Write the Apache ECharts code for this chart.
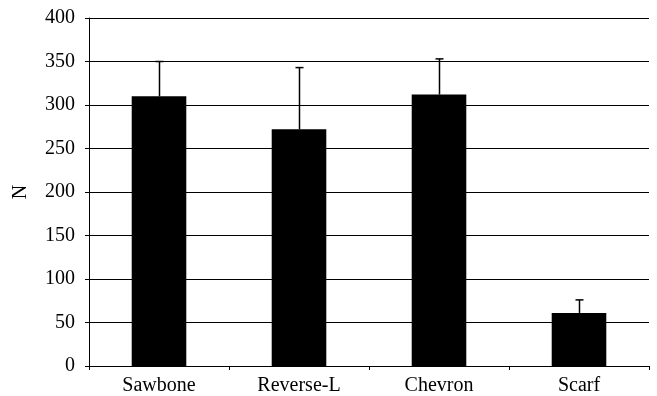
<!DOCTYPE html>
<html>
<head>
<meta charset="utf-8">
<script src="https://cdn.jsdelivr.net/npm/echarts@6/dist/echarts.min.js"></script>
<style>html,body{margin:0;padding:0;background:#fff}#c{width:657px;height:396px}</style>
</head>
<body>
<div id="c"></div>
<script>
const categories = ['Sawbone', 'Reverse-L', 'Chevron', 'Scarf'];
const means = [310, 272, 312, 61];
const errorTops = [350, 343, 353, 76];
const yTicks = {min: 0, max: 400, interval: 50};

const chart = echarts.init(document.getElementById('c'), null, {renderer: 'canvas'});
const font = '"Liberation Serif", "Times New Roman", serif';
chart.setOption({
  animation: false,
  grid: {left: 89, right: 8, top: 18, bottom: 30, containLabel: false},
  xAxis: {
    type: 'category',
    data: categories,
    axisLine: {show: true, lineStyle: {color: '#000', width: 1}},
    axisTick: {show: true, alignWithLabel: false, length: 4, lineStyle: {color: '#000'}},
    axisLabel: {color: '#000', fontFamily: font, fontSize: 20, margin: 10}
  },
  yAxis: {
    type: 'value',
    min: yTicks.min, max: yTicks.max, interval: yTicks.interval,
    name: 'N', nameLocation: 'middle', nameRotate: 90, nameGap: 58,
    nameTextStyle: {color: '#000', fontFamily: font, fontSize: 20},
    axisLine: {show: true, lineStyle: {color: '#000', width: 1}},
    axisTick: {show: true, length: 4, lineStyle: {color: '#000'}},
    axisLabel: {color: '#000', fontFamily: font, fontSize: 20, margin: 14},
    splitLine: {show: true, lineStyle: {color: '#000', width: 1}}
  },
  series: [
    {
      type: 'bar',
      data: means,
      barWidth: '39%',
      itemStyle: {color: '#000'},
      z: 2
    },
    {
      type: 'custom',
      z: 3,
      data: categories.map((c, i) => [i, means[i], errorTops[i]]),
      renderItem: function (params, api) {
        const base = api.coord([api.value(0), api.value(1)]);
        const top = api.coord([api.value(0), api.value(2)]);
        const x = Math.round(base[0]) + 0.5;
        const hw = 4;
        return {
          type: 'group',
          children: [
            {type: 'line', shape: {x1: x, y1: base[1], x2: x, y2: top[1]}, style: {stroke: '#000', lineWidth: 1.5}},
            {type: 'line', shape: {x1: x - hw, y1: top[1], x2: x + hw, y2: top[1]}, style: {stroke: '#000', lineWidth: 1.5}}
          ]
        };
      }
    }
  ]
});
</script>
</body>
</html>
